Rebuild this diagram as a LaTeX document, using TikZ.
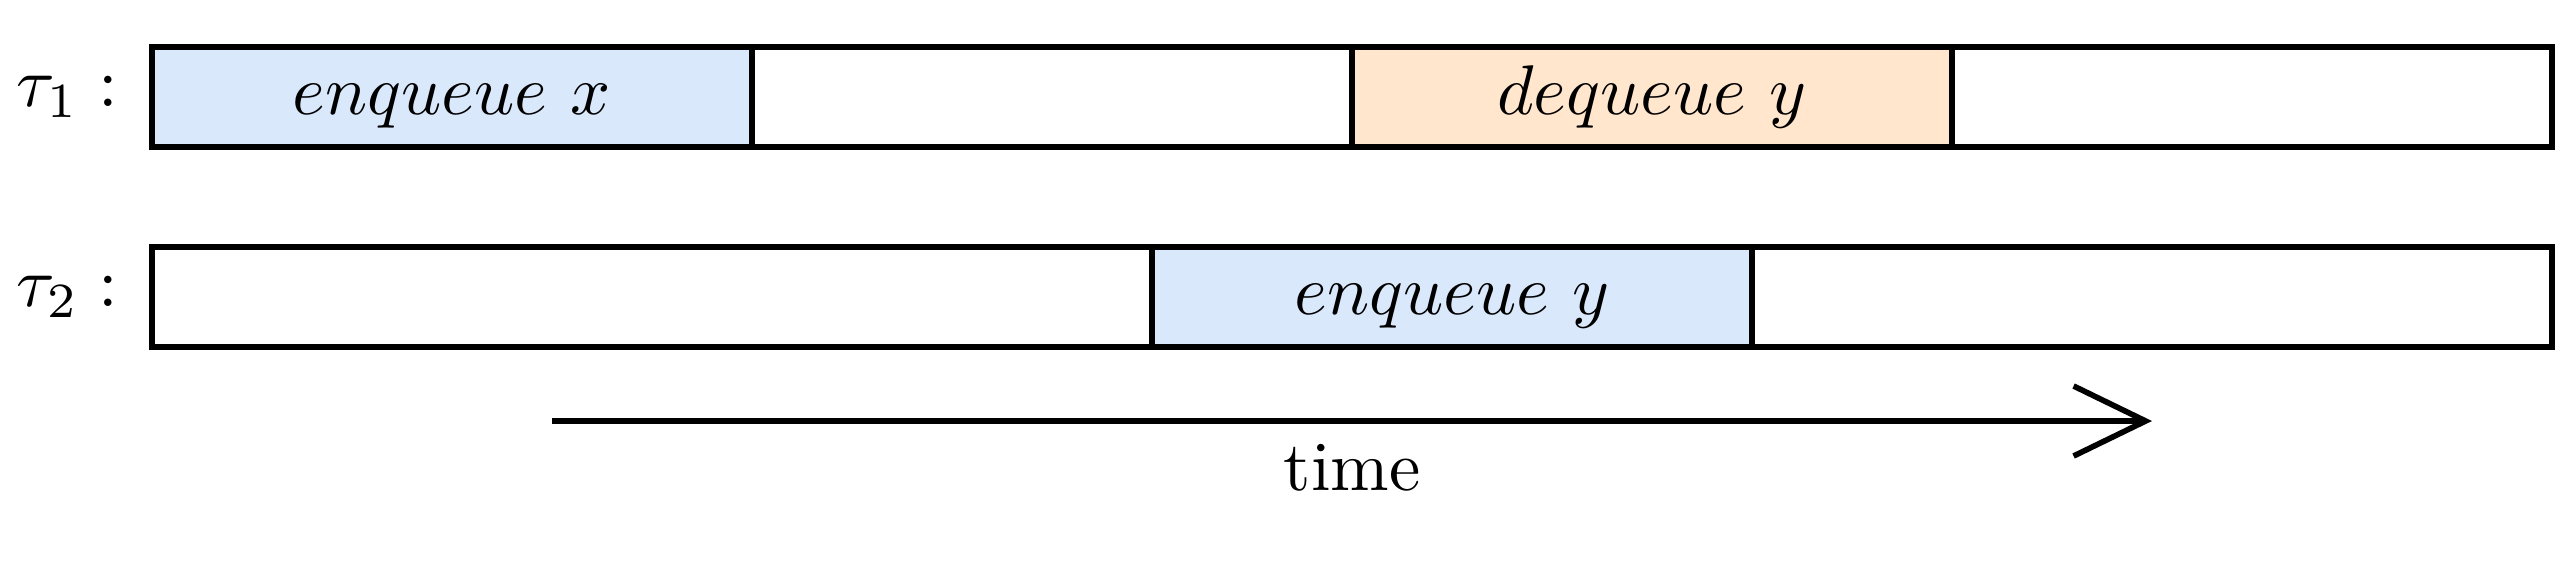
\documentclass[tikz,border=0pt]{standalone}
\usepackage{amsmath,amssymb}
\usepackage{xcolor}
\usepackage{tikz}
\usetikzlibrary{arrows.meta}
\definecolor{bluchiaro}{HTML}{DAE8FC}
\definecolor{arancio}{HTML}{FFE6CC}
\newcommand{\op}[2]{$#1\ #2$}

\begin{document}
\begin{tikzpicture}[>={Straight Barb[length=3.6mm,width=3.5mm]},
  cella/.style={draw,thick,rectangle,minimum height=0.5cm,inner sep=0pt,outer sep=0pt,
    text height=1.6ex,text depth=0.45ex}]
  \useasboundingbox (-0.76,0.235) rectangle (12.04,-2.615);
  % thread 1
  \foreach \n/\x/\c/\t in {a/1.5/bluchiaro/{\op{enqueue}{x}},b/4.5/white/{},c/7.5/arancio/{\op{dequeue}{y}},d/10.5/white/{}}
    \node[cella,fill=\c,minimum width=3cm] (u\n) at (\x,-0.25) {\t};
  % thread 2
  \foreach \n/\x/\w/\c/\t in {a/2.5/5/white/{},b/6.5/3/bluchiaro/{\op{enqueue}{y}},c/10/4/white/{}}
    \node[cella,fill=\c,minimum width=\w cm] (v\n) at (\x,-1.25) {\t};
  \node[left=0.45mm] (tau1) at (ua.west) {$\tau_1 :$};
  \node[left=0.45mm] (tau2) at (va.west) {$\tau_2 :$};
  \coordinate (inizio) at (2,-1.87);
  \coordinate (fine) at (10,-1.87);
  \draw[->,thick] (inizio) -- (fine) node[midway,below=-0.15mm] (tempo) {time};
\end{tikzpicture}
\end{document}
